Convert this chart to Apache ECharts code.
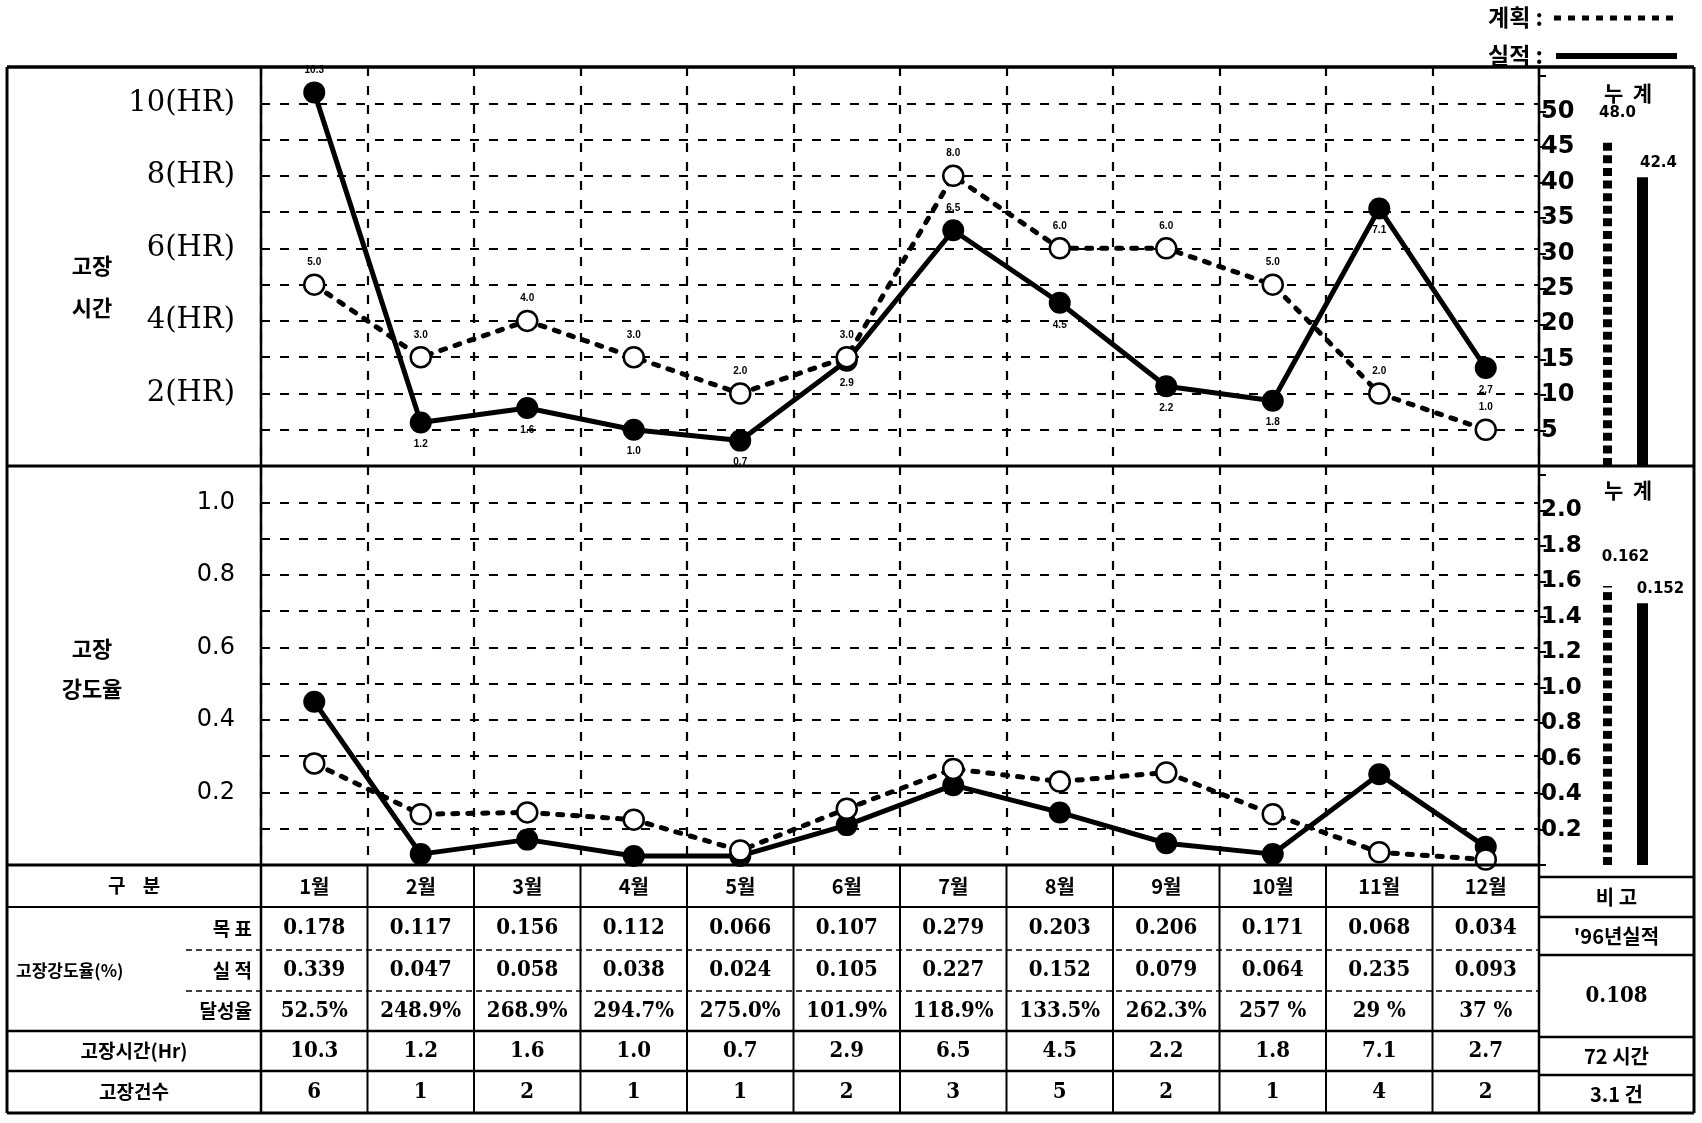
<!DOCTYPE html>
<html><head><meta charset="utf-8">
<script src="https://cdn.jsdelivr.net/npm/echarts@6/dist/echarts.min.js"></script>
<style>html,body{margin:0;padding:0;background:#fff}#c{width:1702px;height:1123px}</style>
</head><body><div id="c"></div>
<script>
// ---- data ----
const months = ['1월','2월','3월','4월','5월','6월','7월','8월','9월','10월','11월','12월'];
const hoursPlan   = [5.0, 3.0, 4.0, 3.0, 2.0, 3.0, 8.0, 6.0, 6.0, 5.0, 2.0, 1.0];
const hoursActual = [10.3, 1.2, 1.6, 1.0, 0.7, 2.9, 6.5, 4.5, 2.2, 1.8, 7.1, 2.7];
const ratePlan    = [0.28, 0.14, 0.145, 0.125, 0.04, 0.155, 0.265, 0.23, 0.255, 0.14, 0.035, 0.015];
const rateActual  = [0.45, 0.03, 0.07, 0.025, 0.025, 0.11, 0.22, 0.145, 0.06, 0.03, 0.25, 0.05];
const cumHours = [48.0, 42.4];      // 계획, 실적 누계
const cumRate  = [0.162, 0.152];
const rowTarget  = ['0.178','0.117','0.156','0.112','0.066','0.107','0.279','0.203','0.206','0.171','0.068','0.034'];
const rowActual  = ['0.339','0.047','0.058','0.038','0.024','0.105','0.227','0.152','0.079','0.064','0.235','0.093'];
const rowAchieve = ['52.5%','248.9%','268.9%','294.7%','275.0%','101.9%','118.9%','133.5%','262.3%','257 %','29 %','37 %'];
const rowHours   = ['10.3','1.2','1.6','1.0','0.7','2.9','6.5','4.5','2.2','1.8','7.1','2.7'];
const rowCount   = ['6','1','2','1','1','2','3','5','2','1','4','2'];
const remarks    = ['비 고', "'96년실적", '0.108', '72 시간', '3.1 건'];
const legendNames = ['계획', '실적'];

// ---- layout ----
const PL = 261, PR = 1539, TOP = 67, MID = 466, TBL = 865, BOT = 1113, FL = 7, FR = 1694;
const cw = (PR - PL) / 12;
const KR = '"Noto Sans CJK KR", "Noto Sans", sans-serif';
const NUM = '"DejaVu Serif Condensed", "DejaVu Serif", serif';

const g = [];
function line(x1, y1, x2, y2, w, dash) {
  g.push({type:'line', z: 50, shape:{x1, y1, x2, y2}, style:{stroke:'#000', lineWidth:w || 2, lineDash: dash || null}});
}
function text(t, x, y, font, align) {
  g.push({type:'text', z: 51, x, y, style:{text:t, font, fill:'#000', align: align || 'center', verticalAlign:'middle', textAlign: align || 'center', textVerticalAlign:'middle'}});
}
// frame
line(FL, TOP, FR, TOP, 3.5);
line(FL, BOT, FR, BOT, 3);
line(FL, TOP, FL, BOT, 3);
line(FR, TOP, FR, BOT, 3);
line(FL, MID, FR, MID, 3);
line(FL, TBL, PR, TBL, 3);
line(PL, TOP, PL, BOT, 2.5);
line(PR, TOP, PR, BOT, 2.5);
// table rows
const rows = [TBL, 907, 950, 991, 1031, 1071, BOT];
line(FL, rows[1], PR, rows[1], 2);
line(186, rows[2], PR, rows[2], 1.5, [6, 4]);
line(186, rows[3], PR, rows[3], 1.5, [6, 4]);
line(FL, rows[4], PR, rows[4], 2.5);
line(FL, rows[5], PR, rows[5], 2.5);
for (let i = 1; i < 12; i++) line(PL + i * cw, TBL, PL + i * cw, BOT, 2);
const rc = i => (rows[i] + rows[i + 1]) / 2;
const rowFont = 'bold 19px ' + KR;
text('구    분', 134, rc(0), rowFont);
text('목 표', 252, rc(1), rowFont, 'right');
text('고장강도율(%)', 16, rc(2), 'bold 17px ' + KR, 'left');
text('실 적', 252, rc(2), rowFont, 'right');
text('달성율', 252, rc(3), rowFont, 'right');
text('고장시간(Hr)', 134, rc(4), rowFont);
text('고장건수', 134, rc(5), rowFont);
const numFont = 'bold 22px ' + NUM;
months.forEach((m, i) => {
  const cx = PL + (i + 0.5) * cw;
  text(m, cx, rc(0), 'bold 20px ' + KR);
  text(rowTarget[i], cx, rc(1), numFont);
  text(rowActual[i], cx, rc(2), numFont);
  text(rowAchieve[i], cx, rc(3), numFont);
  text(rowHours[i], cx, rc(4), numFont);
  text(rowCount[i], cx, rc(5), numFont);
});
// remarks column
const rr = [877, 917, 955, 1037, 1075, BOT];
rr.slice(0, 5).forEach(y => line(PR, y, FR, y, 2.5));
remarks.forEach((t, i) => text(t, (PR + FR) / 2, (rr[i] + rr[i + 1]) / 2, (i === 2 ? numFont : 'bold 20px ' + KR)));
// side labels
text('고장', 92, 266, 'bold 22px ' + KR);
text('시간', 92, 308, 'bold 22px ' + KR);
text('고장', 92, 649, 'bold 22px ' + KR);
text('강도율', 92, 689, 'bold 22px ' + KR);
text('누  계', 1628, 93, 'bold 21px ' + KR);
text('누  계', 1628, 490, 'bold 21px ' + KR);
// legend
text(legendNames[0] + ' :', 1543, 17, 'bold 23px ' + KR, 'right');
line(1554, 18, 1677, 18, 5, [7, 7]);
text(legendNames[1] + ' :', 1543, 55, 'bold 23px ' + KR, 'right');
line(1556, 56, 1677, 56, 6);

const gridLine = {show: true, lineStyle: {color: '#000', width: 2.2, type: [9, 10]}};
const planStyle = {
  type: 'line', symbol: 'circle', symbolSize: 20, z: 4,
  lineStyle: {color: '#000', width: 5, type: [5, 10], cap: 'round'},
  itemStyle: {color: '#fff', borderColor: '#000', borderWidth: 2.5}
};
const actStyle = {
  type: 'line', symbol: 'circle', symbolSize: 22, z: 3,
  lineStyle: {color: '#000', width: 5},
  itemStyle: {color: '#000'}
};
const ptLabel = {show: true, fontSize: 10, fontWeight: 'bold', color: '#000', distance: 6, formatter: p => p.value.toFixed(1)};

const option = {
  animation: false,
  backgroundColor: '#fff',
  grid: [
    {left: PL, width: PR - PL, top: TOP, height: MID - TOP},
    {left: PL, width: PR - PL, top: MID, height: TBL - MID},
    {left: 1590, width: 70, top: TOP, height: MID - TOP},
    {left: 1590, width: 70, top: MID, height: TBL - MID}
  ],
  xAxis: [
    {type: 'category', gridIndex: 0, data: months, boundaryGap: true, axisLine: {show: false}, axisTick: {show: false}, axisLabel: {show: false}, splitLine: gridLine},
    {type: 'category', gridIndex: 1, data: months, boundaryGap: true, axisLine: {show: false}, axisTick: {show: false}, axisLabel: {show: false}, splitLine: gridLine},
    {type: 'category', gridIndex: 2, data: legendNames, show: false},
    {type: 'category', gridIndex: 3, data: legendNames, show: false}
  ],
  yAxis: [
    {type: 'value', gridIndex: 0, min: 0, max: 11, interval: 1, axisLine: {show: false}, axisTick: {show: false}, splitLine: gridLine,
     axisLabel: {margin: 26, fontFamily: 'DejaVu Serif', fontSize: 29, color: '#000', formatter: v => (v > 0 && v <= 10 && v % 2 === 0) ? v + '(HR)' : ''}},
    {type: 'value', gridIndex: 0, position: 'right', min: 0, max: 56.3, interval: 5, axisLine: {show: false}, splitLine: {show: false},
     axisTick: {show: true, length: 7, lineStyle: {color: '#000', width: 2}},
     axisLabel: {margin: 2, fontFamily: 'DejaVu Sans', fontWeight: 'bold', fontSize: 24, color: '#000', showMaxLabel: false, formatter: v => (v > 0 && v <= 50) ? String(v) : ''}},
    {type: 'value', gridIndex: 1, min: 0, max: 1.1, interval: 0.1, axisLine: {show: false}, axisTick: {show: false}, splitLine: gridLine,
     axisLabel: {margin: 26, fontFamily: 'DejaVu Sans', fontSize: 24, color: '#000', formatter: v => { const k = Math.round(v * 10); return (k > 0 && k <= 10 && k % 2 === 0) ? (k / 10).toFixed(1) : ''; }}},
    {type: 'value', gridIndex: 1, position: 'right', min: 0, max: 2.25, interval: 0.2, axisLine: {show: false}, splitLine: {show: false},
     axisTick: {show: true, length: 7, lineStyle: {color: '#000', width: 2}},
     axisLabel: {margin: 2, fontFamily: 'DejaVu Sans', fontWeight: 'bold', fontSize: 23, color: '#000', showMaxLabel: false, formatter: v => { const k = Math.round(v * 10); return (k > 0 && k <= 20) ? (k / 10).toFixed(1) : ''; }}},
    {type: 'value', gridIndex: 2, min: 0, max: 58.6, show: false},
    {type: 'value', gridIndex: 3, min: 0, max: 0.2317, show: false}
  ],
  series: [
    Object.assign({}, actStyle, {name: legendNames[1], xAxisIndex: 0, yAxisIndex: 0,
      data: hoursActual.map((v, i) => ({value: v, label: {position: (i === 0 || i === 6) ? 'top' : 'bottom'}})), label: ptLabel}),
    Object.assign({}, planStyle, {name: legendNames[0], xAxisIndex: 0, yAxisIndex: 0, data: hoursPlan, label: Object.assign({}, ptLabel, {position: 'top'})}),
    Object.assign({}, actStyle, {name: legendNames[1], xAxisIndex: 1, yAxisIndex: 2, data: rateActual}),
    Object.assign({}, planStyle, {name: legendNames[0], xAxisIndex: 1, yAxisIndex: 2, data: ratePlan}),
    {type: 'pictorialBar', name: legendNames[0], xAxisIndex: 2, yAxisIndex: 4, data: [cumHours[0], '-'],
     symbol: 'rect', symbolRepeat: true, symbolSize: [9, 8], symbolMargin: 2.5, symbolClip: true, itemStyle: {color: '#000'},
     label: {show: true, position: 'top', offset: [10, -4], fontFamily: 'DejaVu Sans', fontWeight: 'bold', fontSize: 15, color: '#000', formatter: p => Number(p.value).toFixed(1)}},
    {type: 'bar', name: legendNames[1], xAxisIndex: 2, yAxisIndex: 4, data: ['-', cumHours[1]], barWidth: 11, itemStyle: {color: '#000'},
     label: {show: true, position: 'top', offset: [16, -2], fontFamily: 'DejaVu Sans', fontWeight: 'bold', fontSize: 15, color: '#000', formatter: p => Number(p.value).toFixed(1)}},
    {type: 'pictorialBar', name: legendNames[0], xAxisIndex: 3, yAxisIndex: 5, data: [cumRate[0], '-'],
     symbol: 'rect', symbolRepeat: true, symbolSize: [9, 8], symbolMargin: 2.5, symbolClip: true, itemStyle: {color: '#000'},
     label: {show: true, position: 'top', offset: [18, -10], fontFamily: 'DejaVu Sans', fontWeight: 'bold', fontSize: 15, color: '#000', formatter: p => Number(p.value).toFixed(3)}},
    {type: 'bar', name: legendNames[1], xAxisIndex: 3, yAxisIndex: 5, data: ['-', cumRate[1]], barWidth: 11, itemStyle: {color: '#000'},
     label: {show: true, position: 'top', offset: [18, -2], fontFamily: 'DejaVu Sans', fontWeight: 'bold', fontSize: 15, color: '#000', formatter: p => Number(p.value).toFixed(3)}}
  ],
  graphic: g
};
echarts.init(document.getElementById('c')).setOption(option);
</script></body></html>
